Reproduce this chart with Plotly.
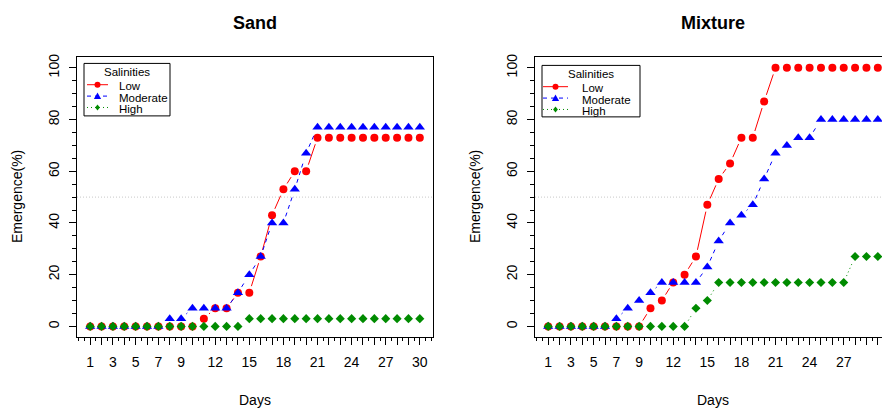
import math
import plotly.graph_objects as go

# ---- data -------------------------------------------------------------
days = list(range(1, 31))

sand_low = [0] * 10 + [3, 7, 7, 13, 13, 27, 43, 53, 60, 60] + [73] * 10
sand_moderate = [0] * 7 + [3, 3, 7, 7, 7, 7, 13, 20, 27, 40, 40, 53, 67] + [77] * 10
sand_high = [0] * 14 + [3] * 16

mix_low = [0] * 9 + [7, 10, 17, 20, 27, 47, 57, 63, 73, 73, 87] + [100] * 10
mix_moderate = [0] * 6 + [3, 7, 10, 13, 17, 17, 17, 17, 23, 33, 40, 43, 47, 57,
                          67, 70, 73, 73] + [80] * 6
mix_high = [0] * 13 + [7, 10] + [17] * 12 + [27] * 3

series_names = ["Low", "Moderate", "High"]
panel_titles = ["Sand", "Mixture"]
legend_title = "Salinities"
x_title = "Days"
y_title = "Emergence(%)"

x_tick_labels = ["1", "", "3", "", "5", "", "7", "", "9", "", "", "12", "", "",
                 "15", "", "", "18", "", "", "21", "", "", "24", "", "", "27",
                 "", "", "30"]
y_tick_vals = [0, 20, 40, 60, 80, 100]
half_line = 50

# ---- styling ----------------------------------------------------------
W, H = 882, 411
FONT = "Liberation Sans, Arial, sans-serif"
colors = ["#FF0000", "#0000FF", "#008B00"]
dashes = ["solid", "4px,4px", "1px,3px"]
symbols = ["circle", "triangle-up", "diamond"]
msizes = [8, 9, 7]

# plot boxes in pixels (left, right, top, bottom)
BOX_L = (77, 433, 54, 336)
BOX_R = (535, 891, 54, 336)
XR = [-0.16, 31.16]
YR = [-4, 104]
SX = (BOX_L[1] - BOX_L[0]) / (XR[1] - XR[0])  # px per day
SY = (BOX_L[3] - BOX_L[2]) / (YR[1] - YR[0])  # px per percent
GAP = 7  # px left open around each point on the connecting lines


def px(x):
    return x / W


def py(y):
    return 1 - y / H


def broken_line(xs, ys):
    """Segments between successive points with a gap at each end."""
    bx, by = [], []
    for (x0, y0), (x1, y1) in zip(zip(xs, ys), zip(xs[1:], ys[1:])):
        dxp, dyp = (x1 - x0) * SX, (y1 - y0) * SY
        f = GAP / math.hypot(dxp, dyp)
        if f < 0.5:
            bx += [x0 + f * (x1 - x0), x1 - f * (x1 - x0), None]
            by += [y0 + f * (y1 - y0), y1 - f * (y1 - y0), None]
    return bx, by


fig = go.Figure()
panels = [(sand_low, sand_moderate, sand_high), (mix_low, mix_moderate, mix_high)]
for p, series in enumerate(panels):
    xa, ya = ("x", "y") if p == 0 else ("x2", "y2")
    for i, vals in enumerate(series):
        lx, ly = broken_line(days, vals)
        fig.add_trace(go.Scatter(
            x=lx, y=ly, mode="lines", xaxis=xa, yaxis=ya, showlegend=False,
            line=dict(color=colors[i], width=1, dash=dashes[i]),
            hoverinfo="skip"))
    for i, vals in enumerate(series):
        fig.add_trace(go.Scatter(
            x=days, y=vals, mode="markers", xaxis=xa, yaxis=ya,
            name=series_names[i], showlegend=False,
            marker=dict(color=colors[i], symbol=symbols[i], size=msizes[i],
                        line=dict(width=0))))

axis_font = dict(family=FONT, size=14, color="black")


def xaxis_cfg(box, rng):
    return dict(domain=[px(box[0]), min(1.0, px(box[1]))], range=rng,
                tickmode="array", tickvals=days, ticktext=x_tick_labels,
                ticks="outside", ticklen=7, tickwidth=1, tickcolor="black",
                minor=dict(tickmode="linear", tick0=0, dtick=0.5, ticks="outside",
                           ticklen=3, tickwidth=1, tickcolor="black"),
                showline=True, linecolor="black", linewidth=1, mirror=True,
                showgrid=False, zeroline=False, tickfont=axis_font,
                ticklabelstandoff=5, fixedrange=True)


def yaxis_cfg(box, mirror):
    return dict(domain=[py(box[3]), py(box[2])], range=YR,
                tickmode="array", tickvals=y_tick_vals,
                ticks="outside", ticklen=7, tickwidth=1, tickcolor="black",
                minor=dict(tickmode="linear", tick0=0, dtick=5, ticks="outside",
                           ticklen=4, tickwidth=1, tickcolor="black"),
                showline=True, linecolor="black", linewidth=1, mirror=mirror,
                showgrid=False, zeroline=False, tickfont=axis_font,
                tickangle=-90, ticklabelstandoff=4, fixedrange=True)


right_end = XR[0] + (W - BOX_R[0]) / SX
fig.update_layout(
    width=W, height=H, margin=dict(l=0, r=0, t=0, b=0),
    paper_bgcolor="white", plot_bgcolor="white",
    font=dict(family=FONT, color="black"),
    xaxis=dict(xaxis_cfg(BOX_L, XR), anchor="y"),
    yaxis=dict(yaxis_cfg(BOX_L, True), anchor="x"),
    xaxis2=dict(xaxis_cfg(BOX_R, [XR[0], right_end]), anchor="y2"),
    yaxis2=dict(yaxis_cfg(BOX_R, False), anchor="x2"),
    showlegend=False,
)

shapes, annotations = [], []
for p, box in enumerate([BOX_L, BOX_R]):
    xr = "x" if p == 0 else "x2"
    yr = "y" if p == 0 else "y2"
    # reference line at 50 %
    shapes.append(dict(type="line", xref=xr + " domain", yref=yr, x0=0, x1=1,
                       y0=half_line, y1=half_line, layer="below",
                       line=dict(color="#C8C8C8", width=1, dash="1px,2px")))
    cx = (box[0] + box[1]) / 2
    annotations.append(dict(text="<b>%s</b>" % panel_titles[p], x=px(cx), y=py(19),
                            xref="paper", yref="paper", showarrow=False,
                            font=dict(family=FONT, size=18, color="black"),
                            xanchor="center", yanchor="middle"))
    annotations.append(dict(text=x_title, x=px(cx), y=py(400), xref="paper",
                            yref="paper", showarrow=False,
                            font=dict(family=FONT, size=14, color="black"),
                            xanchor="center", yanchor="middle"))
    annotations.append(dict(text=y_title, x=px(box[0] - 60), y=py((box[2] + box[3]) / 2),
                            xref="paper", yref="paper", showarrow=False, textangle=-90,
                            font=dict(family=FONT, size=14, color="black"),
                            xanchor="center", yanchor="middle"))

# legend boxes: (left, right, top, bottom, key x0, key x1, text x)
legend_boxes = [(84, 170, 60, 113, 87, 108, 117),
                (542, 640, 62, 114, 543, 568, 580)]
row_y = [81.5, 93, 104.5]
key_sizes = [3, 3.6, 3]
for (l, r, t, b, k0, k1, tx) in legend_boxes:
    shapes.append(dict(type="rect", xref="paper", yref="paper",
                       x0=px(l), x1=px(r), y0=py(b), y1=py(t),
                       line=dict(color="black", width=1), fillcolor="white"))
    annotations.append(dict(text=legend_title, x=px((l + r) / 2), y=py(t + 8.5),
                            xref="paper", yref="paper", showarrow=False,
                            font=dict(family=FONT, size=11.5, color="black"),
                            xanchor="center", yanchor="middle"))
    for i, name in enumerate(series_names):
        yy = row_y[i] + (t - 60)
        shapes.append(dict(type="line", xref="paper", yref="paper",
                           x0=px(k0), x1=px(k1), y0=py(yy), y1=py(yy),
                           line=dict(color=colors[i], width=1, dash=dashes[i])))
        mx = (k0 + k1) / 2
        s = key_sizes[i]
        common = dict(xref="paper", yref="paper", xsizemode="pixel", ysizemode="pixel",
                      xanchor=px(mx), yanchor=py(yy), fillcolor=colors[i],
                      line=dict(width=0))
        if symbols[i] == "circle":
            shapes.append(dict(type="circle", x0=-s, x1=s, y0=-s, y1=s, **common))
        elif symbols[i] == "triangle-up":
            shapes.append(dict(type="path", path="M %g,%g L %g,%g L 0,%g Z" %
                               (-s, -s * 0.8, s, -s * 0.8, s * 1.0), **common))
        else:
            shapes.append(dict(type="path", path="M 0,%g L %g,0 L 0,%g L %g,0 Z" %
                               (s, s * 0.8, -s, -s * 0.8), **common))
        annotations.append(dict(text=name, x=px(tx), y=py(yy + 1.5), xref="paper",
                                yref="paper", showarrow=False,
                                font=dict(family=FONT, size=11.5, color="black"),
                                xanchor="left", yanchor="middle"))

fig.update_layout(shapes=shapes, annotations=annotations)
fig.write_html("out.html")
